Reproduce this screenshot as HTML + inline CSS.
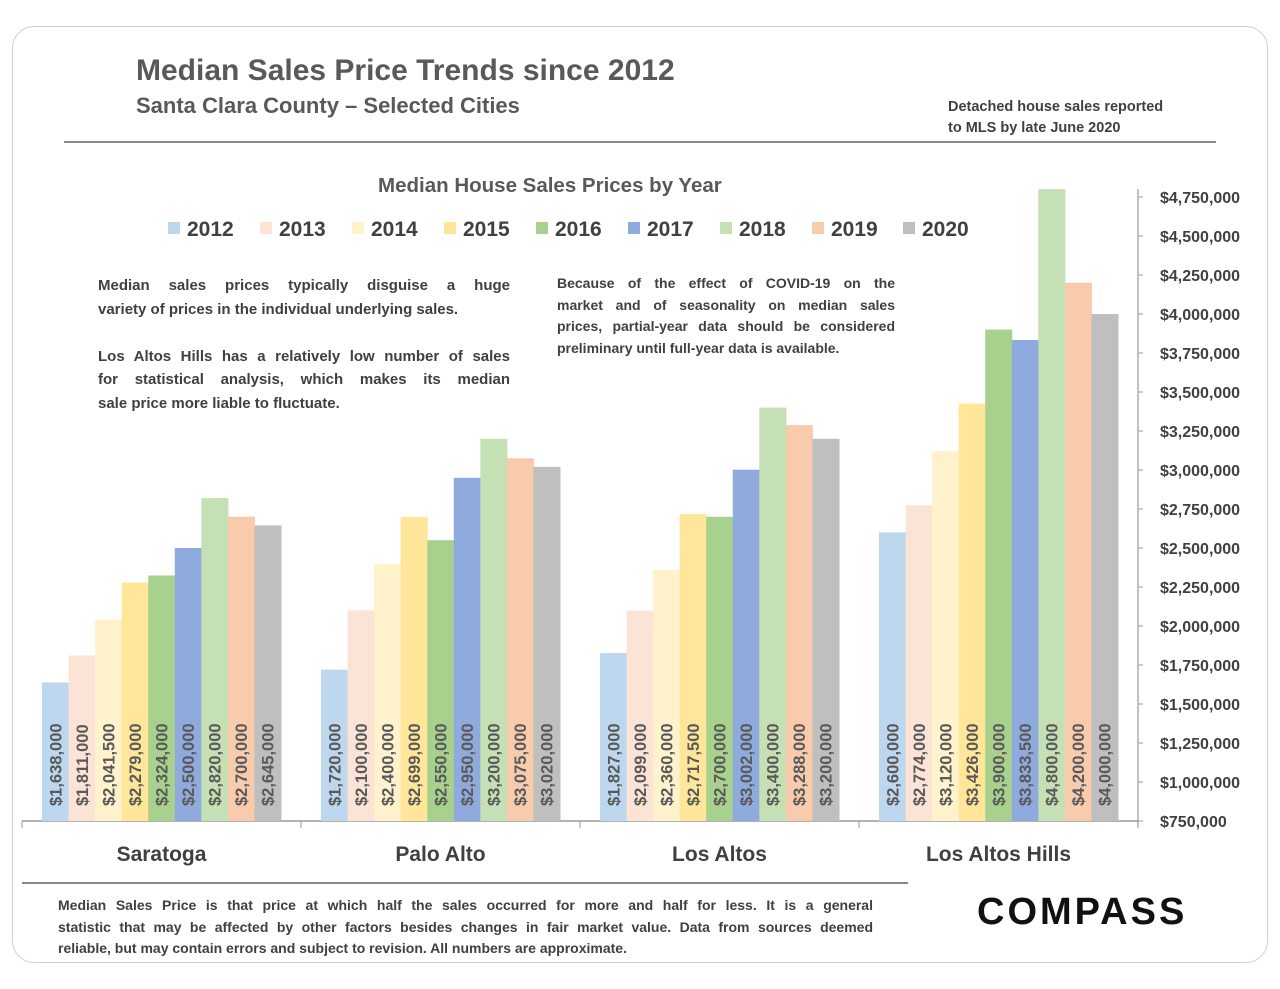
<!DOCTYPE html>
<html><head><meta charset="utf-8"><style>
body{margin:0;background:#fff;font-family:"Liberation Sans",sans-serif;}
#frame{position:absolute;left:12px;top:26px;width:1254px;height:935px;border:1.5px solid #d0d0d0;border-radius:22px;}
.t{position:absolute;color:#595959;font-weight:bold;white-space:nowrap;}
.p{position:absolute;color:#404040;font-weight:bold;font-size:15.5px;line-height:23.5px;}
.p span{display:block;text-align:justify;text-align-last:justify;white-space:nowrap;}
.p span.l{text-align-last:left;}
.p span.e{height:23.5px;}
</style></head><body>
<div id="frame"></div>
<div class="t" style="left:136px;top:54px;font-size:30px">Median Sales Price Trends since 2012</div>
<div class="t" style="left:136px;top:93px;font-size:22px">Santa Clara County – Selected Cities</div>
<div class="t" style="left:948px;top:97px;font-size:14.5px;line-height:21px;color:#404040">Detached house sales reported<br>to MLS by late June 2020</div>
<div style="position:absolute;left:64px;top:141px;width:1152px;height:1.5px;background:#888"></div>
<div class="t" style="left:378px;top:174px;font-size:20.5px">Median House Sales Prices by Year</div>
<div class="p" style="left:98px;top:274px;width:412px;font-size:15px"><span>Median sales prices typically disguise a huge</span><span class="l">variety of prices in the individual underlying sales.</span><span class="e"></span><span>Los Altos Hills has a relatively low number of sales</span><span>for statistical analysis, which makes its median</span><span class="l">sale price more liable to fluctuate.</span></div>
<div class="p" style="left:557px;top:273px;width:338px;font-size:14px;line-height:21.5px"><span>Because of the effect of COVID-19 on the</span><span>market and of seasonality on median sales</span><span>prices, partial-year data should be considered</span><span class="l">preliminary until full-year data is available.</span></div>
<div style="position:absolute;left:22px;top:882px;width:886px;height:1.5px;background:#888"></div>
<div class="p" style="left:58px;top:895px;width:815px;font-size:14px;line-height:21.5px"><span>Median Sales Price is that price at which half the sales occurred for more and half for less. It is a general</span><span>statistic that may be affected by other factors besides changes in fair market value. Data from sources deemed</span><span class="l">reliable, but may contain errors and subject to revision.  All numbers are approximate.</span></div>
<div class="t" style="left:977px;top:891px;font-size:38px;font-weight:bold;color:#111;letter-spacing:3px">COMPASS</div>
<svg id="chart" width="1280" height="989" style="position:absolute;left:0;top:0"></svg>
<script>
const cities=["Saratoga","Palo Alto","Los Altos","Los Altos Hills"];
const years=["2012","2013","2014","2015","2016","2017","2018","2019","2020"];
const saratoga=[1638000,1811000,2041500,2279000,2324000,2500000,2820000,2700000,2645000];
const paloAlto=[1720000,2100000,2400000,2699000,2550000,2950000,3200000,3075000,3020000];
const losAltos=[1827000,2099000,2360000,2717500,2700000,3002000,3400000,3288000,3200000];
const losAltosHills=[2600000,2774000,3120000,3426000,3900000,3833500,4800000,4200000,4000000];
const yTicks=[750000,1000000,1250000,1500000,1750000,2000000,2250000,2500000,2750000,3000000,3250000,3500000,3750000,4000000,4250000,4500000,4750000];
const series=[saratoga,paloAlto,losAltos,losAltosHills];
const colors=["#bdd7ee","#fbe3d6","#fff2cc","#ffe699","#a9d18e","#8faadc","#c5e0b4","#f8cbad","#bfbfbf"];
const NS="http://www.w3.org/2000/svg",svg=document.getElementById('chart');
const y0=821,y1=197,vMin=750000,vMax=4750000;
const y=v=>y0-(v-vMin)/(vMax-vMin)*(y0-y1);
const xL=22,xR=1138,catW=(xR-xL)/cities.length,pad=20,barW=(catW-2*pad)/years.length;
function mk(t,a){const e=document.createElementNS(NS,t);for(const k in a)e.setAttribute(k,a[k]);svg.appendChild(e);return e;}
let ax=mk('line',{x1:xL,y1:y0,x2:xR,y2:y0,stroke:'#999','stroke-width':1.5});


let ay=mk('line',{x1:xR,y1:y1-8,x2:xR,y2:y0+6,stroke:'#999','stroke-width':1.2});


yTicks.forEach(v=>{
  const tk=mk('line',{x1:xR,y1:y(v),x2:xR+5,y2:y(v),stroke:'#999'});
  
  
  const t=mk('text',{x:1160,y:y(v)+6,'font-size':16,'font-weight':'bold',fill:'#404040'});
  t.textContent='$'+v.toLocaleString('en-US');
  
  
});
for(let i=0;i<=cities.length;i++){
  const l=mk('line',{x1:xL+i*catW,y1:y0,x2:xL+i*catW,y2:y0+7,stroke:'#999'});
  
  
}
cities.forEach((c,ci)=>{
  const cx=xL+ci*catW;
  const t=mk('text',{x:cx+catW/2,y:861,'text-anchor':'middle','font-size':21,'font-weight':'bold',fill:'#404040'});
  t.textContent=c;
  
  
  series[ci].forEach((v,yi)=>{
    const bx=cx+pad+yi*barW;
    const r=mk('rect',{x:bx,y:y(v),width:barW+0.5,height:y0-y(v),fill:colors[yi]});
    
    
    const lx=bx+barW/2+6,ly=806;
    const lb=mk('text',{x:lx,y:ly,transform:`rotate(-90 ${lx} ${ly})`,'font-size':16.5,'font-weight':'bold',fill:'#595959'});
    lb.textContent='$'+v.toLocaleString('en-US');
    
    
  });
});
const lgX=[168,260,352,444,536,628,720,812,903];
years.forEach((yr,i)=>{
  const r=mk('rect',{x:lgX[i],y:222,width:12,height:12,fill:colors[i]});
  
  
  const t=mk('text',{x:lgX[i]+19,y:236,'font-size':21,'font-weight':'bold',fill:'#404040'});
  t.textContent=yr;
  
  
});
</script>
</body></html>
